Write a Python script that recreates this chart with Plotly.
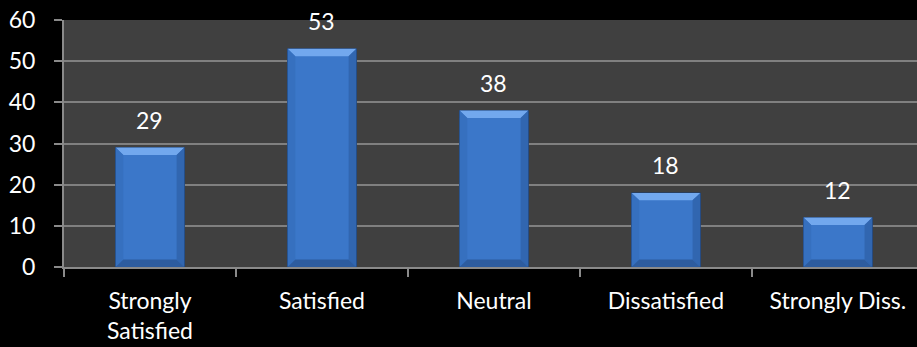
import plotly.graph_objects as go

categories = ["Strongly<br>Satisfied", "Satisfied", "Neutral", "Dissatisfied", "Strongly Diss."]
values = [29, 53, 38, 18, 12]
y_ticks = [0, 10, 20, 30, 40, 50, 60]

FONT = "Lato"
FS = 23
BAR_W = 0.4
fig = go.Figure()
fig.add_trace(go.Bar(
    x=list(range(len(categories))), y=values, width=BAR_W,
    marker=dict(color="#3b77c9", line=dict(color="#1c3d6e", width=1)),
    hoverinfo="skip",
))

# bevel shapes derived from bar geometry (data coords)
bx = 0.045  # bevel width in category units
by = 1.8    # bevel height in value units
shapes = []
for i, v in enumerate(values):
    x0, x1 = i - BAR_W / 2, i + BAR_W / 2
    shapes.append(dict(type="path", xref="x", yref="y",
                       path=f"M {x0},{v} L {x1},{v} L {x1-bx},{v-by} L {x0+bx},{v-by} Z",
                       fillcolor="#72a8ee", line=dict(width=0), layer="above"))
    shapes.append(dict(type="path", xref="x", yref="y",
                       path=f"M {x0},{v} L {x0+bx},{v-by} L {x0+bx},{by} L {x0},{0} Z",
                       fillcolor="#3670bf", line=dict(width=0), layer="above"))
    shapes.append(dict(type="path", xref="x", yref="y",
                       path=f"M {x1},{v} L {x1-bx},{v-by} L {x1-bx},{by} L {x1},{0} Z",
                       fillcolor="#3166b0", line=dict(width=0), layer="above"))
    shapes.append(dict(type="path", xref="x", yref="y",
                       path=f"M {x0},0 L {x1},0 L {x1-bx},{by} L {x0+bx},{by} Z",
                       fillcolor="#2d5c9f", line=dict(width=0), layer="above"))

annotations = [dict(x=i, y=v, xref="x", yref="y", text=str(v), showarrow=False,
                    yanchor="bottom", yshift=12,
                    font=dict(family=FONT, size=FS, color="white"))
               for i, v in enumerate(values)]

fig.update_layout(
    width=917, height=347,
    margin=dict(l=64, r=0, t=20, b=80),
    paper_bgcolor="black", plot_bgcolor="#404040",
    font=dict(family=FONT, size=FS, color="white"),
    showlegend=False, bargap=0.6,
    shapes=shapes, annotations=annotations,
    xaxis=dict(
        tickmode="array", tickvals=list(range(len(categories))), ticktext=categories,
        range=[-0.5, 4.46], showgrid=False, zeroline=False,
        showline=True, linecolor="#8a8a8a", linewidth=2,
        ticks="", ticklabelstandoff=12, tickfont=dict(family=FONT, size=FS, color="white"),
        minor=dict(tickmode="array", tickvals=[-0.5, 0.5, 1.5, 2.5, 3.5, 4.5],
                   ticks="outside", ticklen=8, tickcolor="#8a8a8a", tickwidth=2),
    ),
    yaxis=dict(
        range=[0, 60], tickvals=y_ticks, showgrid=True, gridcolor="#808080", gridwidth=2,
        zeroline=False, showline=True, linecolor="#8a8a8a", linewidth=2,
        ticks="outside", ticklen=8, tickcolor="#8a8a8a", tickwidth=2,
        ticklabelstandoff=14, tickfont=dict(family=FONT, size=FS, color="white"),
    ),
)

fig.write_html("out.html")
